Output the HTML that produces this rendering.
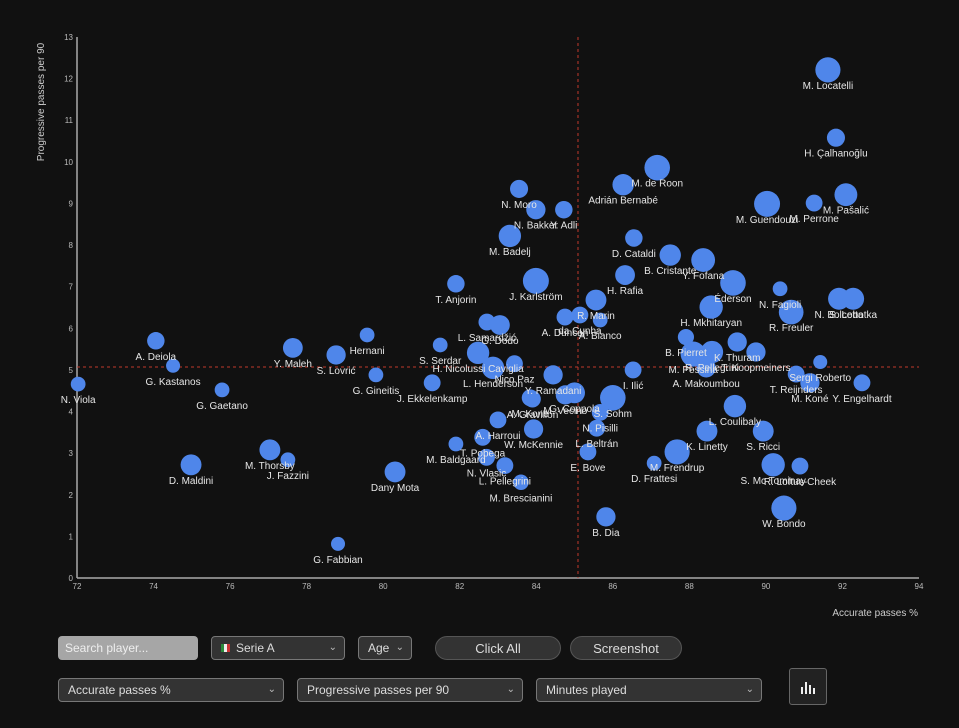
<!DOCTYPE html>
<html><head><meta charset="utf-8">
<style>
body{margin:0;background:#111;width:959px;height:728px;overflow:hidden;font-family:"Liberation Sans",sans-serif;}
.ctl{position:absolute;box-sizing:border-box;color:#ddd;font-size:12px;display:flex;align-items:center;}
.sel{background:#333;border:1px solid #777;border-radius:4px;padding-left:9px;}
.sel .car{position:absolute;right:7px;top:5px;font-size:10px;color:#bbb;}
.btn{background:#333;border:1px solid #555;border-radius:13px;justify-content:center;font-size:13px;}
</style></head><body>
<svg id="chart" width="959" height="620" style="position:absolute;left:0;top:0"></svg>

<div class="ctl" style="left:58px;top:636px;width:140px;height:24px;background:#a6a6a6;border-radius:4px;padding-left:7px;color:#eee;">Search player...</div>
<div class="ctl sel" style="left:211px;top:636px;width:134px;height:24px;"><span style="display:inline-block;width:3px;height:8px;background:#2a8a3a"></span><span style="display:inline-block;width:3px;height:8px;background:#eee"></span><span style="display:inline-block;width:3px;height:8px;background:#c33;margin-right:6px"></span>Serie A<span class="car">&#8964;</span></div>
<div class="ctl sel" style="left:358px;top:636px;width:54px;height:24px;">Age<span class="car">&#8964;</span></div>
<div class="ctl btn" style="left:435px;top:636px;width:126px;height:24px;">Click All</div>
<div class="ctl btn" style="left:570px;top:636px;width:112px;height:24px;">Screenshot</div>
<div class="ctl sel" style="left:58px;top:678px;width:226px;height:24px;">Accurate passes %<span class="car">&#8964;</span></div>
<div class="ctl sel" style="left:297px;top:678px;width:226px;height:24px;">Progressive passes per 90<span class="car">&#8964;</span></div>
<div class="ctl sel" style="left:536px;top:678px;width:226px;height:24px;">Minutes played<span class="car">&#8964;</span></div>
<div class="ctl" style="left:789px;top:668px;width:38px;height:37px;background:#222;border:1px solid #666;border-radius:3px;justify-content:center;">
<svg width="16" height="14"><rect x="1" y="7" width="2" height="7" fill="#eee"/><rect x="5" y="2" width="2" height="12" fill="#eee"/><rect x="9" y="5" width="2" height="9" fill="#eee"/><rect x="13" y="8" width="2" height="6" fill="#eee"/></svg></div>

<script>
const names=["M. Locatelli","H. Çalhanoğlu","M. de Roon","Adrián Bernabé","N. Moro","N. Bakker","Y. Adli","M. Badelj","M. Guendouzi","M. Perrone","M. Pašalić","D. Cataldi","B. Cristante","Y. Fofana","Éderson","J. Karlström","T. Anjorin","H. Rafia","N. Fagioli","R. Freuler","N. Bolcetta","S. Lobotka","H. Mkhitaryan","R. Marin","da Cunha","A. Duncan","A. Bianco","L. Samardžić","G. Dodò","Hernani","S. Serdar","H. Nicolussi Caviglia","A. Deiola","Y. Maleh","S. Lovrić","G. Kastanos","N. Viola","G. Gaetano","G. Gineitis","L. Henderson","B. Pierret","R. Pellegrini","T. Koopmeiners","K. Thuram","A. Makoumbou","M. Pessina","Sergi Roberto","Y. Engelhardt","M. Koné","T. Reijnders","Nico Paz","Y. Ramadani","I. Ilić","M. Kone","J. Ekkelenkamp","G. Coppola","M. Vecino","S. Sohm","L. Coulibaly","S. Ricci","K. Linetty","M. Frendrup","A. Harroui","W. McKennie","T. Pobega","N. Pisilli","L. Beltrán","E. Bove","D. Frattesi","M. Baldgaard","N. Vlasic","L. Pellegrini","M. Brescianini","D. Maldini","M. Thorsby","J. Fazzini","Dany Mota","G. Fabbian","B. Dia","W. Bondo","S. Mc Tominay","R. Loftus-Cheek","A. Gravillon"];
const xVals=[91.62,91.83,87.16,86.27,83.55,83.99,84.72,83.31,90.03,91.26,92.09,86.55,87.5,88.36,89.14,83.99,81.9,86.32,90.37,90.66,91.91,92.28,88.57,85.56,85.14,84.75,85.67,82.71,83.05,79.58,81.49,82.48,74.06,77.64,78.77,74.51,72.03,75.79,79.81,82.87,87.91,88.59,89.74,89.25,88.44,88.1,91.42,92.51,91.15,90.79,83.43,84.44,86.53,83.84,81.28,85.0,84.76,86.0,89.19,89.93,88.46,87.68,83.0,83.93,82.6,85.67,85.58,85.35,87.08,81.9,82.7,83.18,83.6,74.98,77.04,77.51,80.31,78.82,85.82,90.47,90.19,90.89,83.9];
const yVals=[12.21,10.58,9.86,9.45,9.35,8.85,8.85,8.22,8.99,9.01,9.21,8.17,7.76,7.64,7.09,7.14,7.07,7.28,6.95,6.39,6.71,6.71,6.51,6.68,6.32,6.27,6.2,6.15,6.08,5.84,5.6,5.41,5.7,5.53,5.36,5.1,4.66,4.52,4.88,5.05,5.79,5.43,5.43,5.67,5.05,5.38,5.19,4.69,4.69,4.9,5.15,4.88,5.0,4.33,4.69,4.45,4.4,4.33,4.13,3.53,3.53,3.03,3.8,3.58,3.38,3.98,3.6,3.03,2.76,3.22,2.9,2.7,2.3,2.72,3.08,2.84,2.55,0.82,1.47,1.68,2.72,2.69,4.3];
const minutes=[2900,1500,3000,2100,1500,1700,1400,2300,3100,1300,2400,1400,2100,2600,3000,3100,1400,1800,1000,2800,2200,2200,2500,2000,1300,1300,1000,1300,1800,1000,1000,2300,1400,1800,1700,900,1000,1000,1000,2300,1200,2300,1700,1700,1700,2900,900,1300,1700,1300,1300,1700,1300,1300,1300,2000,1700,3000,2300,2000,2000,2900,1300,1700,1300,1300,1300,1300,1000,1000,1300,1300,1100,2000,2000,1000,2000,900,1700,2900,2500,1300,1300];
const xTicks=[72,74,76,78,80,82,84,86,88,90,92,94];
const yTicks=[0,1,2,3,4,5,6,7,8,9,10,11,12,13];
const xMedian=85.09, yMedian=5.07;

const NS="http://www.w3.org/2000/svg";
const svg=document.getElementById('chart');
const L=77,R=919,T=37,B=578;
const xs=v=>L+(v-72)/(94-72)*(R-L);
const ys=v=>B-(v-0)/(13-0)*(B-T);
const rs=m=>Math.sqrt(m/3100)*13;
function mk(tag,attrs,txt){const e=document.createElementNS(NS,tag);for(const k in attrs)e.setAttribute(k,attrs[k]);if(txt!==undefined)e.textContent=txt;svg.appendChild(e);return e;}

let e=mk('line',{x1:L,y1:T,x2:L,y2:B,stroke:'#aaa','stroke-width':1.5});


e=mk('line',{x1:L,y1:B,x2:R,y2:B,stroke:'#aaa','stroke-width':1.5});


xTicks.forEach(t=>{const el=mk('text',{x:xs(t),y:B+11,fill:'#bbb','font-size':8,'text-anchor':'middle'},t);

});
yTicks.forEach(t=>{const el=mk('text',{x:L-4,y:ys(t)+3,fill:'#bbb','font-size':8,'text-anchor':'end'},t);

});
e=mk('text',{x:918,y:616,fill:'#ccc','font-size':10,'text-anchor':'end'},'Accurate passes %');


e=mk('text',{x:44,y:102,fill:'#ccc','font-size':10,'text-anchor':'middle',transform:'rotate(-90 44 102)'},'Progressive passes per 90');


e=mk('line',{x1:xs(xMedian),y1:T,x2:xs(xMedian),y2:B,stroke:'#c0392b','stroke-dasharray':'3,3','stroke-width':1});


e=mk('line',{x1:L,y1:ys(yMedian),x2:R,y2:ys(yMedian),stroke:'#c0392b','stroke-dasharray':'3,3','stroke-width':1});


names.forEach((n,i)=>{const c=mk('circle',{cx:xs(xVals[i]),cy:ys(yVals[i]),r:rs(minutes[i]),fill:'#4f86ea'});

});
names.forEach((n,i)=>{const t=mk('text',{x:xs(xVals[i]),y:ys(yVals[i])+19,fill:'#e6e6e6','font-size':10,'text-anchor':'middle'},n);

});
</script>
</body></html>
